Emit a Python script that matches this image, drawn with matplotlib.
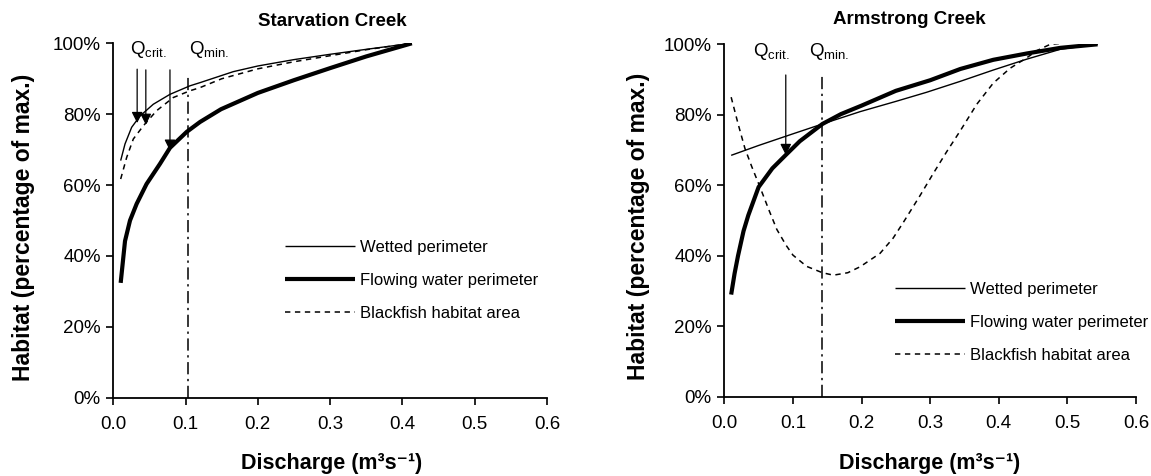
import matplotlib
matplotlib.use("Agg")
import matplotlib.pyplot as plt
from matplotlib.ticker import FuncFormatter

plt.rcParams['font.family'] = ['Liberation Sans', 'DejaVu Sans']
plt.rcParams['mathtext.fontset'] = 'custom'
plt.rcParams['mathtext.rm'] = 'Liberation Sans'
plt.rcParams['mathtext.it'] = 'Liberation Sans:italic'
plt.rcParams['mathtext.bf'] = 'Liberation Sans:bold'

# ---------------- Data: Starvation Creek ----------------
sc_title = "Starvation Creek"
sc_wet_x = [0.0102, 0.0162, 0.0254, 0.037, 0.0553, 0.0784, 0.106, 0.120, 0.166, 0.200, 0.250, 0.300, 0.350, 0.413]
sc_wet_y = [66.9, 71.6, 76.3, 79.5, 82.8, 85.6, 88.0, 88.9, 92.0, 93.6, 95.4, 96.9, 98.3, 100.0]
sc_flow_x = [0.0102, 0.0162, 0.0231, 0.0323, 0.046, 0.0646, 0.0784, 0.1015, 0.120, 0.149, 0.200, 0.250, 0.300, 0.350, 0.413]
sc_flow_y = [32.4, 44.2, 50.0, 54.7, 60.3, 66.0, 70.5, 75.0, 77.8, 81.4, 86.0, 89.6, 93.0, 96.3, 100.0]
sc_fish_x = [0.0102, 0.0185, 0.0277, 0.0415, 0.060, 0.083, 0.106, 0.120, 0.150, 0.200, 0.250, 0.300, 0.350, 0.413]
sc_fish_y = [61.7, 67.8, 73.0, 76.7, 81.0, 84.7, 86.6, 87.5, 90.0, 92.8, 94.8, 96.5, 98.2, 100.0]
sc_qcrit_x = [0.033, 0.045, 0.0784]
sc_qcrit_top = [92.7, 92.5, 92.5]
sc_qcrit_tip = [77.5, 77.0, 69.7]
sc_qmin_x = 0.104
sc_qmin_top = 91.0

# ---------------- Data: Armstrong Creek ----------------
ac_title = "Armstrong Creek"
ac_wet_x = [0.010, 0.050, 0.100, 0.143, 0.198, 0.250, 0.295, 0.344, 0.392, 0.441, 0.490, 0.544]
ac_wet_y = [68.5, 71.3, 74.6, 77.4, 80.9, 83.8, 86.4, 89.5, 92.7, 95.8, 98.6, 100.0]
ac_flow_x = [0.010, 0.015, 0.020, 0.028, 0.035, 0.050, 0.070, 0.0896, 0.110, 0.143, 0.170, 0.200, 0.250, 0.300, 0.344, 0.392, 0.441, 0.490, 0.544]
ac_flow_y = [29.0, 35.0, 40.0, 47.0, 51.5, 59.5, 64.8, 68.6, 72.5, 77.4, 80.2, 82.6, 86.8, 89.8, 93.0, 95.6, 97.4, 99.0, 100.0]
ac_fish_x = [0.010, 0.020, 0.030, 0.040, 0.052, 0.065, 0.0765, 0.090, 0.100, 0.120, 0.143, 0.159, 0.180, 0.198, 0.227, 0.246, 0.261, 0.285, 0.305, 0.324, 0.344, 0.368, 0.392, 0.4165, 0.441, 0.4555, 0.475, 0.499, 0.520, 0.544]
ac_fish_y = [85.0, 77.5, 70.5, 65.3, 59.5, 53.0, 47.5, 43.0, 40.2, 37.0, 35.2, 34.5, 35.2, 36.9, 40.7, 45.0, 49.5, 57.0, 63.5, 69.5, 75.5, 83.0, 89.0, 93.2, 96.2, 98.2, 100.0, 100.4, 100.3, 100.0]
ac_qcrit_x = [0.0896]
ac_qcrit_top = [91.3]
ac_qcrit_tip = [68.6]
ac_qmin_x = 0.143
ac_qmin_top = 91.3

labels = ["Wetted perimeter", "Flowing water perimeter", "Blackfish habitat area"]
x_ticks = [0.0, 0.1, 0.2, 0.3, 0.4, 0.5, 0.6]
y_ticks = [0, 20, 40, 60, 80, 100]

W, H = 1151, 476
fig = plt.figure(figsize=(W / 100, H / 100), dpi=100)

def fx(px):
    return px / W

def fy(py):
    return 1 - py / H

panels = [
    dict(rect=[fx(113.3), fy(397.7), fx(547) - fx(113.3), fy(43.3) - fy(397.7)],
         wet=(sc_wet_x, sc_wet_y), flow=(sc_flow_x, sc_flow_y), fish=(sc_fish_x, sc_fish_y),
         qc=(sc_qcrit_x, sc_qcrit_top, sc_qcrit_tip), qmin=(sc_qmin_x, sc_qmin_top),
         title=sc_title, title_xy=(332, 22), ylab_xy=(24, 227), xlab_xy=(332, 463),
         qcrit_txt=(148, 50), qmin_txt=(209, 50),
         leg_xy=(285, 240)),
    dict(rect=[fx(724.3), fy(396.8), fx(1136) - fx(724.3), fy(44.3) - fy(396.8)],
         wet=(ac_wet_x, ac_wet_y), flow=(ac_flow_x, ac_flow_y), fish=(ac_fish_x, ac_fish_y),
         qc=(ac_qcrit_x, ac_qcrit_top, ac_qcrit_tip), qmin=(ac_qmin_x, ac_qmin_top),
         title=ac_title, title_xy=(909, 20), ylab_xy=(638, 226), xlab_xy=(930, 463),
         qcrit_txt=(771, 52), qmin_txt=(829, 52),
         leg_xy=(895, 282)),
]

for p in panels:
    ax = fig.add_axes(p['rect'])
    l1, = ax.plot(*p['wet'], color='black', lw=1.0, solid_capstyle='butt', solid_joinstyle='round')
    l2, = ax.plot(*p['flow'], color='black', lw=3.0, solid_capstyle='butt', solid_joinstyle='round')
    l3, = ax.plot(*p['fish'], color='black', lw=1.1, linestyle=(0, (3.5, 3)))
    qx, qtop = p['qmin']
    ax.plot([qx, qx], [0, qtop], color='black', lw=1.1, linestyle=(0, (8, 3, 1.5, 3)))
    for x, t, b in zip(*p['qc']):
        ax.annotate("", xy=(x, b), xytext=(x, t),
                    arrowprops=dict(arrowstyle='-|>,head_length=0.6,head_width=0.3',
                                    color='black', lw=0.9, mutation_scale=11,
                                    shrinkA=0, shrinkB=0))
    ax.set_xlim(0, 0.6)
    ax.set_ylim(0, 100)
    ax.set_xticks(x_ticks)
    ax.set_yticks(y_ticks)
    ax.xaxis.set_major_formatter(FuncFormatter(lambda v, pos: f"{v:.1f}"))
    ax.yaxis.set_major_formatter(FuncFormatter(lambda v, pos: f"{v:.0f}%"))
    for s in ['top', 'right']:
        ax.spines[s].set_visible(False)
    for s in ['left', 'bottom']:
        ax.spines[s].set_linewidth(1.3)
    ax.tick_params(axis='both', direction='out', length=5, width=1.2, labelsize=13.5, pad=4)
    ax.tick_params(axis='x', pad=8)
    ax.set_facecolor('none')

    fig.text(fx(p['title_xy'][0]), fy(p['title_xy'][1]), p['title'], ha='center', va='center',
             fontsize=13.5, fontweight='bold')
    fig.text(fx(p['ylab_xy'][0]), fy(p['ylab_xy'][1]), "Habitat (percentage of max.)",
             rotation=90, ha='center', va='center', fontsize=16.5, fontweight='bold')
    fig.text(fx(p['xlab_xy'][0]), fy(p['xlab_xy'][1]), "Discharge (m³s⁻¹)",
             ha='center', va='center', fontsize=15.5, fontweight='bold')
    fig.text(fx(p['qcrit_txt'][0]), fy(p['qcrit_txt'][1]), r"Q$_{\mathrm{crit.}}$",
             ha='center', va='center', fontsize=13.5)
    fig.text(fx(p['qmin_txt'][0]), fy(p['qmin_txt'][1]), r"Q$_{\mathrm{min.}}$",
             ha='center', va='center', fontsize=13.5)

    ax.legend([l1, l2, l3], labels, loc='upper left',
              bbox_to_anchor=(fx(p['leg_xy'][0]), fy(p['leg_xy'][1])),
              bbox_transform=fig.transFigure, frameon=False, fontsize=12,
              handlelength=4.2, handletextpad=0.3, labelspacing=1.08,
              borderpad=0, borderaxespad=0)

fig.savefig("out.png", dpi=100)
